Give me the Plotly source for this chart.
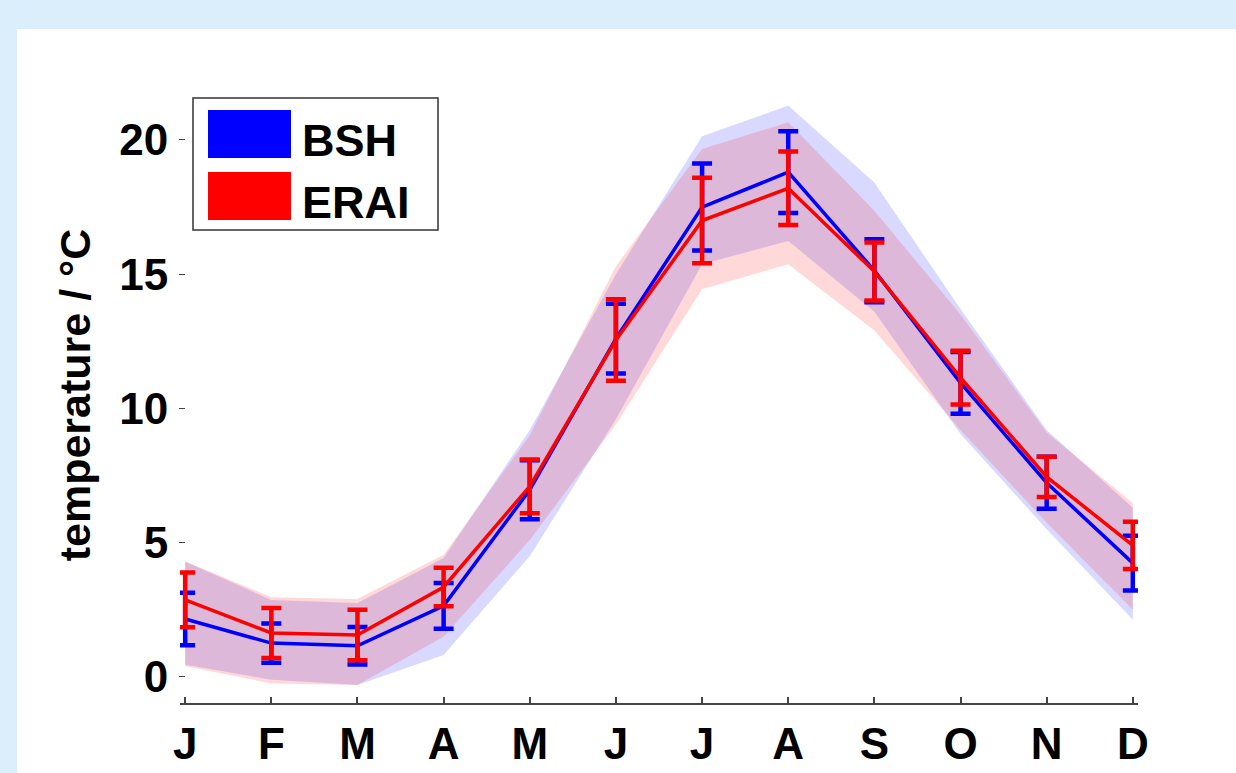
import plotly.graph_objects as go

# Monthly climatology of temperature: mean, error bar, and spread band
months = ["J", "F", "M", "A", "M", "J", "J", "A", "S", "O", "N", "D"]
month_idx = list(range(1, 13))

bsh_mean = [2.16, 1.26, 1.16, 2.65, 6.97, 12.6, 17.5, 18.8, 15.13, 10.95, 7.23, 4.24]
bsh_err = [0.98, 0.73, 0.70, 0.85, 1.10, 1.30, 1.62, 1.52, 1.17, 1.15, 0.97, 1.02]
bsh_lo = [0.45, -0.10, -0.30, 0.82, 4.50, 9.60, 15.37, 16.24, 13.60, 9.05, 5.50, 2.13]
bsh_hi = [4.30, 2.87, 2.75, 4.43, 9.20, 15.00, 20.14, 21.28, 18.42, 13.70, 9.20, 6.30]

erai_mean = [2.87, 1.64, 1.56, 3.35, 7.10, 12.55, 17.0, 18.2, 15.10, 11.15, 7.45, 4.90]
erai_err = [1.02, 0.93, 0.94, 0.72, 1.00, 1.52, 1.59, 1.37, 1.08, 1.00, 0.75, 0.88]
erai_lo = [0.40, -0.24, -0.30, 1.50, 5.10, 9.40, 14.44, 15.37, 12.90, 9.20, 5.74, 2.50]
erai_hi = [4.30, 2.97, 2.90, 4.55, 9.00, 15.30, 19.66, 20.66, 17.36, 13.50, 9.10, 6.48]

series_names = ["BSH", "ERAI"]
series_colors = ["#0000ff", "#ff0000"]
band_colors = ["rgba(0,0,255,0.15)", "rgba(255,0,0,0.15)"]

W, H = 1236, 773
ML, MR, MT, MB = 180, 98, 87, 70
PW, PH = W - ML - MR, H - MT - MB
Y_PER_PX = 1 / 26.85
y0 = -0.97
y1 = y0 + PH * Y_PER_PX

FONT = "Liberation Sans, Arial, sans-serif"


def px_x(p):
    return (p - ML) / PW


def px_y(p):
    return (H - MB - p) / PH


fig = go.Figure()

# spread bands
for lo, hi, col in [(bsh_lo, bsh_hi, band_colors[0]), (erai_lo, erai_hi, band_colors[1])]:
    fig.add_trace(go.Scatter(
        x=month_idx + month_idx[::-1],
        y=hi + lo[::-1],
        fill="toself", fillcolor=col, mode="none",
        hoverinfo="skip", showlegend=False,
    ))

# mean lines with error bars
for mean, err, col, name in [(bsh_mean, bsh_err, series_colors[0], series_names[0]),
                             (erai_mean, erai_err, series_colors[1], series_names[1])]:
    fig.add_trace(go.Scatter(
        x=month_idx, y=mean, mode="lines", name=name,
        line=dict(color=col, width=3.5),
        error_y=dict(type="data", array=err, visible=True,
                     color=col, thickness=4.5, width=10),
        showlegend=False,
    ))

shapes = [
    # white panel over the light blue page
    dict(type="rect", xref="paper", yref="paper", layer="below",
         x0=px_x(17), x1=px_x(W + 5), y0=px_y(H + 5), y1=px_y(29),
         fillcolor="white", line=dict(width=0)),
    # legend box
    dict(type="rect", xref="paper", yref="paper",
         x0=px_x(193), x1=px_x(438), y0=px_y(230), y1=px_y(98),
         fillcolor="white", line=dict(color="#333333", width=1.5)),
    dict(type="rect", xref="paper", yref="paper",
         x0=px_x(208), x1=px_x(291), y0=px_y(158), y1=px_y(110),
         fillcolor=series_colors[0], line=dict(width=0)),
    dict(type="rect", xref="paper", yref="paper",
         x0=px_x(208), x1=px_x(291), y0=px_y(220), y1=px_y(172),
         fillcolor=series_colors[1], line=dict(width=0)),
]

annotations = [
    dict(text=series_names[0], xref="paper", yref="paper", x=px_x(300), y=px_y(140),
         xanchor="left", yanchor="middle", showarrow=False,
         font=dict(family=FONT, size=45, color="black", weight="bold")),
    dict(text=series_names[1], xref="paper", yref="paper", x=px_x(300), y=px_y(202),
         xanchor="left", yanchor="middle", showarrow=False,
         font=dict(family=FONT, size=45, color="black", weight="bold")),
]

fig.update_layout(
    width=W, height=H,
    margin=dict(l=ML, r=MR, t=MT, b=MB, pad=0, autoexpand=False),
    paper_bgcolor="#dbeefb",
    plot_bgcolor="rgba(0,0,0,0)",
    shapes=shapes,
    annotations=annotations,
    showlegend=False,
    xaxis=dict(
        range=[0.94, 12.06], tickmode="array", tickvals=month_idx, ticktext=months,
        showgrid=False, zeroline=False, showline=True, linecolor="#444444", linewidth=1.5,
        ticks="inside", ticklen=6, tickcolor="#444444", tickwidth=1.5,
        tickfont=dict(family=FONT, size=44, color="black", weight="bold"),
        ticklabelstandoff=1, automargin=False,
    ),
    yaxis=dict(
        range=[y0, y1], tickvals=[0, 5, 10, 15, 20],
        showgrid=False, zeroline=False, showline=False,
        anchor="free", position=px_x(185), automargin=False,
        ticks="outside", ticklen=6, tickcolor="#444444", tickwidth=1,
        tickfont=dict(family=FONT, size=44, color="black", weight="bold"),
        ticklabelstandoff=2,
        title=dict(text="temperature / °C", standoff=14,
                   font=dict(family=FONT, size=43, color="black", weight="bold")),
    ),
)

fig.write_html("out.html")
